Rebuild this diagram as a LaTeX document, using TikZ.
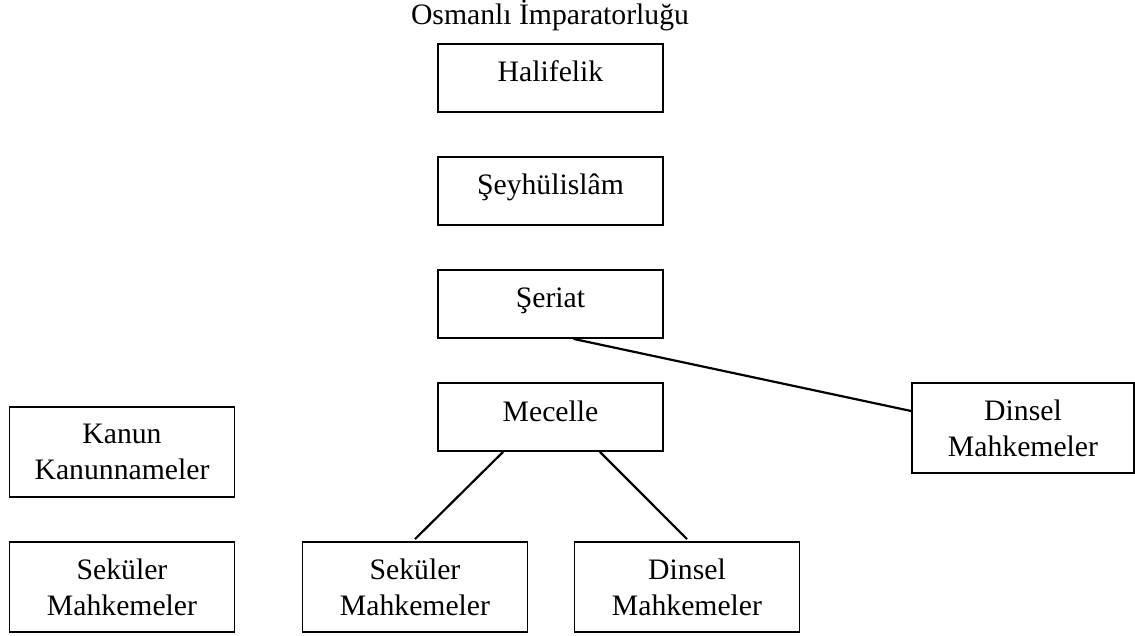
\documentclass[tikz,border=0pt]{standalone}
\usepackage{fontspec}
\setmainfont{Liberation Serif}
\begin{document}
\begin{tikzpicture}[x=1pt,y=-1pt,line width=1.8pt,font=\fontsize{29.7pt}{36pt}\selectfont,
  kutu/.style={draw,minimum width=225pt,minimum height=68pt,text height=20pt,text depth=12pt},
  ikikutu/.style={draw,align=center,minimum width=225pt,minimum height=90pt},
  bag/.style={line width=2.2pt}]
  \useasboundingbox (0,0) rectangle (1135,636);
  \node[anchor=base] (baslik) at (550,25) {Osmanlı İmparatorluğu};
  \node[kutu] (halifelik) at (550.5,78) {Halifelik};
  \node[kutu] (seyh) at (550.5,191) {Şeyhülislâm};
  \node[kutu] (seriat) at (550.5,304) {Şeriat};
  \node[kutu] (mecelle) at (550.5,417) {Mecelle};
  \node[ikikutu,minimum width=222pt] (dinselR) at (1023,428) {Dinsel\\Mahkemeler};
  \node[ikikutu] (kanun) at (122,452) {Kanun\\Kanunnameler};
  \node[ikikutu] (sekulerL) at (122,587) {Seküler\\Mahkemeler};
  \node[ikikutu] (sekulerM) at (415,587) {Seküler\\Mahkemeler};
  \node[ikikutu] (dinselM) at (687,587) {Dinsel\\Mahkemeler};
  \draw[bag] ([xshift=23pt]seriat.south)--([yshift=17pt]dinselR.west);
  \draw[bag] ([xshift=66pt]mecelle.south west)--([yshift=2pt]sekulerM.north);
  \draw[bag] ([xshift=-64pt]mecelle.south east)--([yshift=2pt]dinselM.north);
\end{tikzpicture}
\end{document}
